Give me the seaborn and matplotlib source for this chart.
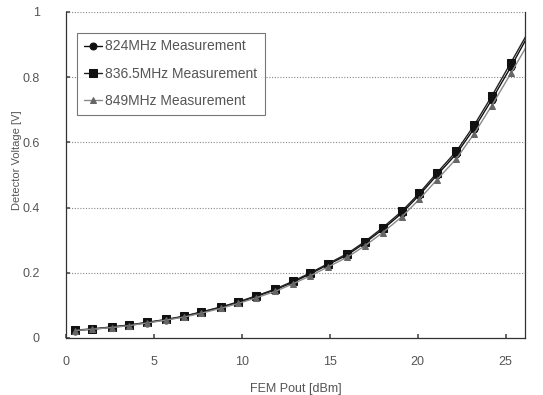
import matplotlib
matplotlib.use("Agg")
import matplotlib.pyplot as plt
import seaborn as sns
import pandas as pd

pout = [0.5, 1.5, 2.6, 3.6, 4.6, 5.7, 6.7, 7.7, 8.8, 9.8, 10.8, 11.9, 12.9,
        13.9, 14.9, 16.0, 17.0, 18.0, 19.1, 20.1, 21.1, 22.2, 23.2, 24.2, 25.3, 26.3]
v824 = [0.023, 0.027, 0.033, 0.039, 0.047, 0.056, 0.066, 0.079, 0.094, 0.109, 0.127,
        0.148, 0.171, 0.197, 0.225, 0.255, 0.292, 0.333, 0.383, 0.439, 0.500, 0.565,
        0.642, 0.730, 0.832, 0.930]
v836 = [0.024, 0.028, 0.034, 0.040, 0.048, 0.057, 0.067, 0.080, 0.095, 0.111, 0.129,
        0.150, 0.174, 0.200, 0.228, 0.259, 0.296, 0.338, 0.389, 0.445, 0.507, 0.573,
        0.652, 0.741, 0.845, 0.940]
v849 = [0.023, 0.027, 0.032, 0.038, 0.046, 0.055, 0.064, 0.076, 0.091, 0.106, 0.123,
        0.143, 0.166, 0.191, 0.218, 0.248, 0.283, 0.323, 0.372, 0.426, 0.486, 0.550,
        0.626, 0.712, 0.812, 0.905]
series_names = ["824MHz Measurement", "836.5MHz Measurement", "849MHz Measurement"]
x_ticks = [0, 5, 10, 15, 20, 25]
y_ticks = [0, 0.2, 0.4, 0.6, 0.8, 1]
y_tick_labels = ["0", "0.2", "0.4", "0.6", "0.8", "1"]

sns.set_theme(style="white")
plt.rcParams["font.family"] = ["Liberation Sans", "DejaVu Sans"]

fig = plt.figure(figsize=(5.43, 3.95), dpi=100)
ax = fig.add_axes([66 / 543, 1 - 338 / 395, (525 - 66) / 543, (338 - 12) / 395])

styles = [
    dict(marker="o", color="#111111", ms=5, mfc="#111111", mec="#111111"),
    dict(marker="s", color="#222222", ms=6, mfc="#111111", mec="#111111"),
    dict(marker="^", color="#8a8a8a", ms=5, mfc="#666666", mec="#666666"),
]
for name, vals, st in zip(series_names, [v824, v836, v849], styles):
    df = pd.DataFrame({"x": pout, "y": vals})
    sns.lineplot(data=df, x="x", y="y", ax=ax, label=name, linewidth=1.0,
                 marker=st["marker"], color=st["color"], markersize=st["ms"],
                 markerfacecolor=st["mfc"], markeredgecolor=st["mec"], clip_on=True)

ax.set_xlim(0, 26.1)
ax.set_ylim(0, 1.0)
ax.set_xticks(x_ticks)
ax.set_xticklabels([str(t) for t in x_ticks])
ax.set_yticks(y_ticks)
ax.set_yticklabels(y_tick_labels)
ax.tick_params(axis="both", labelsize=9, colors="#555555", length=3,
               direction="in", left=True, bottom=True)
ax.tick_params(axis="y", pad=19)
ax.tick_params(axis="x", pad=13)
ax.yaxis.grid(True, linestyle=(0, (1, 1.5)), color="#888888", linewidth=0.8)
ax.xaxis.grid(False)
for s in ["left", "bottom", "right"]:
    ax.spines[s].set_visible(True)
    ax.spines[s].set_color("#333333")
    ax.spines[s].set_linewidth(0.9)
ax.spines["top"].set_visible(False)

ax.set_xlabel("FEM Pout [dBm]", fontsize=9, color="#555555", labelpad=11)
ax.set_ylabel("Detector Voltage [V]", fontsize=8, color="#555555")
ax.yaxis.set_label_coords(-0.096, 0.546)

leg = ax.legend(loc="upper left", bbox_to_anchor=(0.024, 0.937), fontsize=10,
                frameon=True, fancybox=False, edgecolor="#555555",
                handlelength=1.3, handletextpad=0.25, labelspacing=0.95,
                borderpad=0.5, borderaxespad=0.0, labelcolor="#555555")
leg.get_frame().set_linewidth(0.8)

fig.savefig("out.png", dpi=100)
